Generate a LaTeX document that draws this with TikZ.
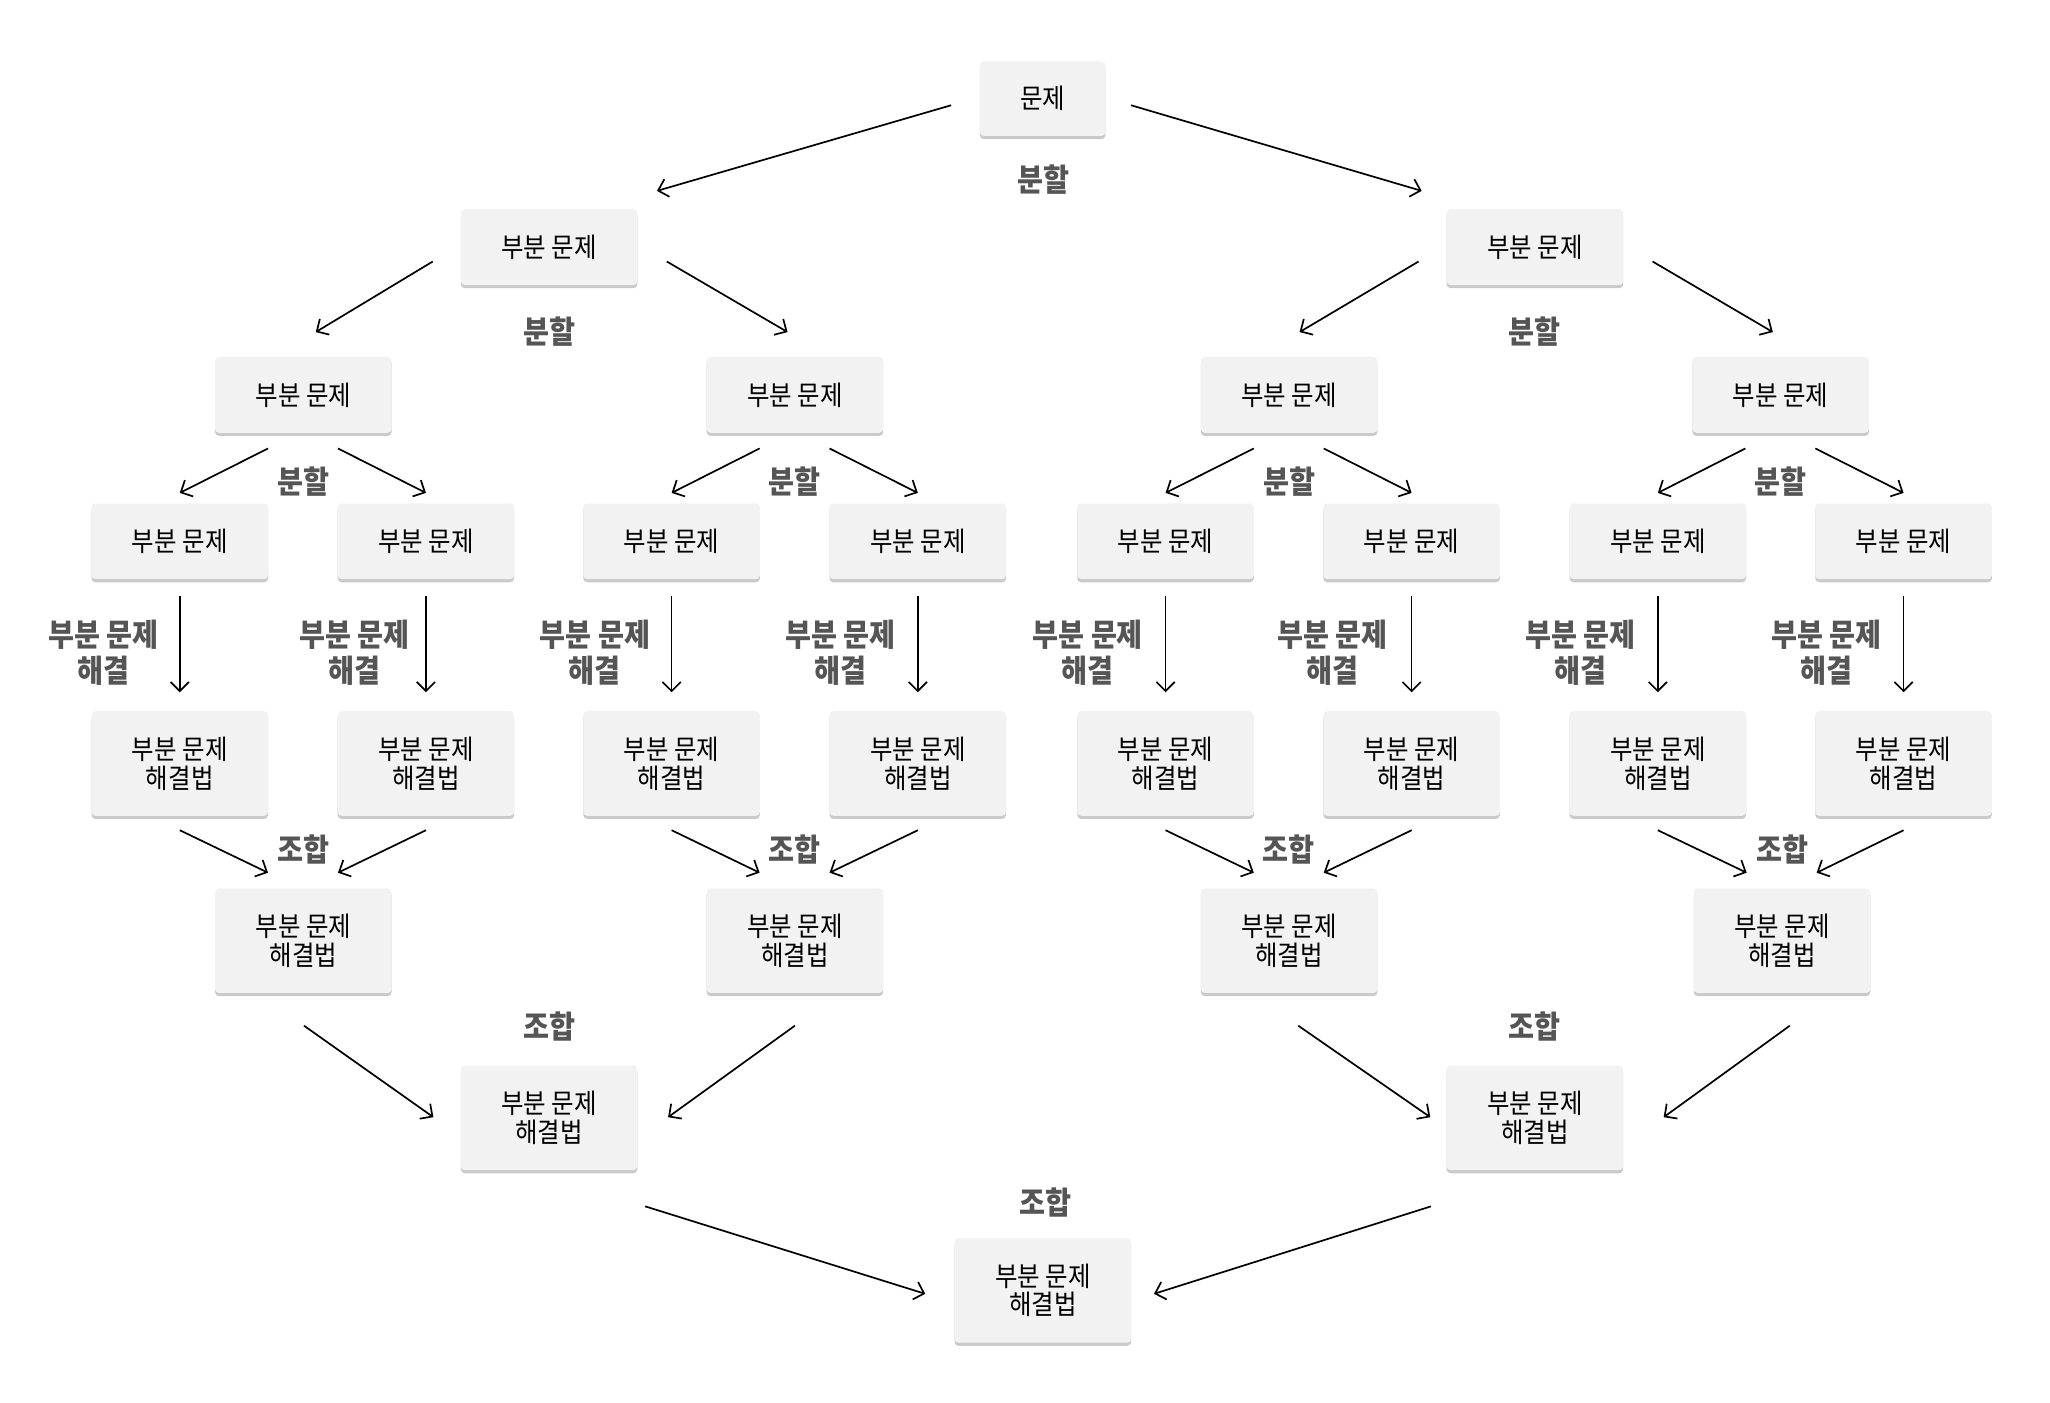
\documentclass[tikz,border=0pt]{standalone}
\usepackage{fontspec}
\setmainfont{Noto Sans CJK KR}[FakeStretch=0.9]
\usetikzlibrary{arrows.meta,shadows,calc}
\definecolor{boxfill}{HTML}{F2F2F2}
\definecolor{lblgray}{HTML}{555555}
\begin{document}
\begin{tikzpicture}[x=0.5pt,y=-0.5pt,
  box/.style={fill=boxfill, rounded corners=1.5pt, minimum width=67.5pt, minimum height=29pt,
    inner sep=0pt, align=center, font=\fontsize{10.4}{11}\selectfont,
    drop shadow={shadow xshift=0pt, shadow yshift=-1.2pt, opacity=0.35, fill=black!60}},
  boxtwo/.style={box, minimum height=40pt},
  lbl/.style={font=\fontsize{12}{13.7}\selectfont\bfseries, text=lblgray, align=center, inner sep=0pt},
  arr/.style={-{Straight Barb[length=3.5pt,width=7pt]}, line width=0.65pt}]
\useasboundingbox (0,0) rectangle (1568,1073);
% nodes
\node[box, minimum width=48pt, minimum height=28.5pt] (p0) at (797.5,75.5) {문제};
\node[box] (a1) at (420,189) {부분 문제};
\node[box] (a2) at (1174,189) {부분 문제};
\foreach \n/\x in {b1/232,b2/608,b3/986,b4/1362}
  \node[box] (\n) at (\x,302) {부분 문제};
\foreach \n/\x in {1/137.5,2/325.8,3/513.7,4/702,5/891.5,6/1079.7,7/1268,8/1456}{
  \node[box] (c\n) at (\x,414) {부분 문제};
  \node[boxtwo] (d\n) at (\x,584) {부분 문제\\해결법};
}
\foreach \n/\x in {e1/232,e2/608,e3/986,e4/1363}
  \node[boxtwo] (\n) at (\x,719.5) {부분 문제\\해결법};
\node[boxtwo] (f1) at (420,855) {부분 문제\\해결법};
\node[boxtwo] (f2) at (1174,855) {부분 문제\\해결법};
\node[boxtwo] (g) at (797.7,987) {부분 문제\\해결법};
% labels
\node[lbl] (l0) at (798,137) {분할};
\node[lbl] (l1a) at (420,253.5) {분할};
\node[lbl] (l1b) at (1173.5,253.5) {분할};
\foreach \x [count=\i] in {232,608,986,1362}
  \node[lbl] (l2\i) at (\x,368) {분할};
\foreach \x [count=\i] in {79,271,455,643,832,1019,1209,1397}
  \node[lbl] (s\i) at (\x,499.5) {부분 문제\\해결};
\foreach \x [count=\i] in {232,608,985.5,1363.5}
  \node[lbl] (k\i) at (\x,650) {조합};
\node[lbl] (m1) at (420,785) {조합};
\node[lbl] (m2) at (1173.5,785) {조합};
\node[lbl] (m0) at (800,919.7) {조합};
% arrows: split
\draw[arr] ($(p0)+(-70,5)$) -- ($(a1)+(82.5,-43)$);
\draw[arr] ($(p0)+(67.6,5)$) -- ($(a2)+(-86.6,-43)$);
\draw[arr] ($(a1)+(-89,11)$) -- ($(b1)+(9.5,-48)$);
\draw[arr] ($(a1)+(90,11)$) -- ($(b2)+(-5.6,-48)$);
\draw[arr] ($(a2)+(-89,11)$) -- ($(b3)+(8,-48)$);
\draw[arr] ($(a2)+(90,11)$) -- ($(b4)+(-6,-48)$);
\foreach \b/\l/\r in {b1/c1/c2,b2/c3/c4,b3/c5/c6,b4/c7/c8}{
  \draw[arr] ($(\b)+(-27,41)$) -- ($(\l)+(0,-37)$);
  \draw[arr] ($(\b)+(26.5,41)$) -- ($(\r)+(0,-37)$);
}
% solve
\foreach \i in {1,...,8}
  \draw[arr] ($(c\i)+(0,41.5)$) -- ($(d\i)+(0,-54.5)$);
% combine
\foreach \e/\l/\r in {e1/d1/d2,e2/d3/d4,e3/d5/d6,e4/d7/d8}{
  \draw[arr] ($(\l)+(0,51)$) -- ($(\e)+(-27,-52)$);
  \draw[arr] ($(\r)+(0,51)$) -- ($(\e)+(26.5,-52)$);
}
\draw[arr] ($(e1)+(0.5,65)$) -- ($(f1)+(-88.5,-0.5)$);
\draw[arr] ($(e2)+(0,65)$) -- ($(f1)+(91,-0.5)$);
\draw[arr] ($(e3)+(7,65)$) -- ($(f2)+(-80,-0.5)$);
\draw[arr] ($(e4)+(6,65)$) -- ($(f2)+(98.5,-0.5)$);
\draw[arr] ($(f1)+(73.5,67.7)$) -- ($(g)+(-90,2.6)$);
\draw[arr] ($(f2)+(-79.5,67.7)$) -- ($(g)+(85,2.6)$);
\end{tikzpicture}
\end{document}
